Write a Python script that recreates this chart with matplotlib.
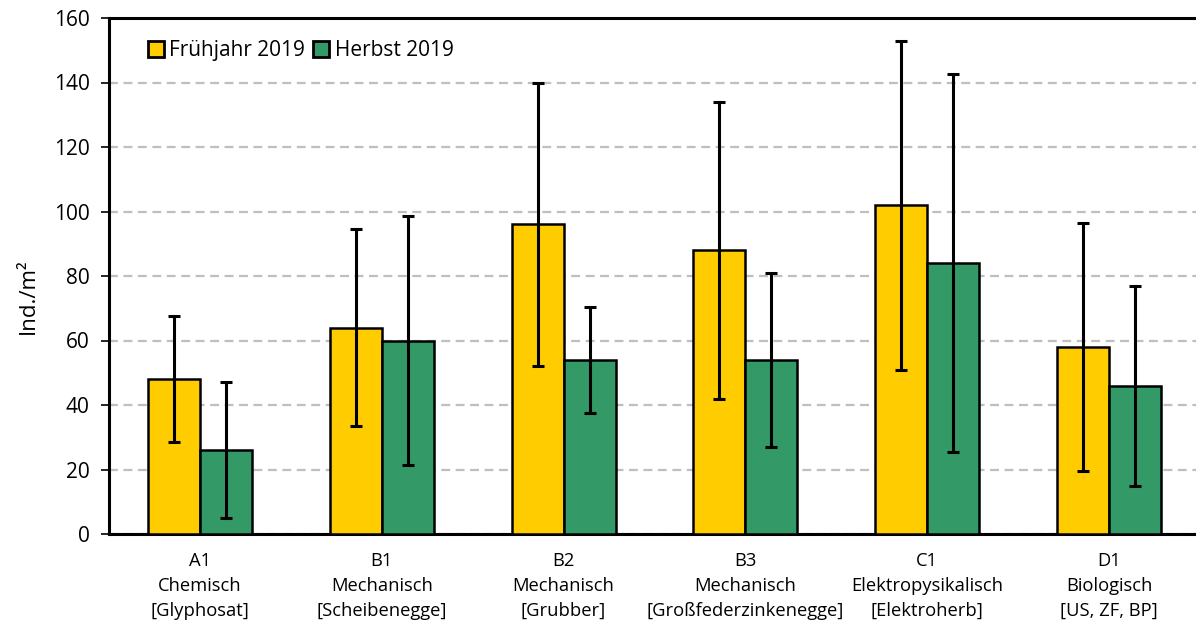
import matplotlib
matplotlib.use("Agg")
import matplotlib.pyplot as plt
import numpy as np

categories = ["A1\nChemisch\n[Glyphosat]", "B1\nMechanisch\n[Scheibenegge]", "B2\nMechanisch\n[Grubber]",
              "B3\nMechanisch\n[Großfederzinkenegge]", "C1\nElektropysikalisch\n[Elektroherb]",
              "D1\nBiologisch\n[US, ZF, BP]"]
fruehjahr = [48, 64, 96, 88, 102, 58]
fruehjahr_err = [19.5, 30.5, 44, 46, 51, 38.5]
herbst = [26, 60, 54, 54, 84, 46]
herbst_err = [21, 38.5, 16.5, 27, 58.5, 31]
series_names = ["Frühjahr 2019", "Herbst 2019"]
yticks = [0, 20, 40, 60, 80, 100, 120, 140, 160]

plt.rcParams['font.family'] = ['Open Sans', 'DejaVu Sans']

W, H = 1196, 626
fig = plt.figure(figsize=(W/100, H/100), dpi=100)
ax = fig.add_axes([109/W, 1-534/H, (1200-109)/W, (534-18)/H])

x = np.arange(len(categories))
bw = 0.286
ekw = dict(elinewidth=2.2, capthick=2.2, ecolor='black')
ax.bar(x - bw/2, fruehjahr, bw, color='#FFCC00', edgecolor='black', linewidth=1.8,
       yerr=fruehjahr_err, capsize=4.5, error_kw=ekw, label=series_names[0], zorder=3)
ax.bar(x + bw/2, herbst, bw, color='#339966', edgecolor='black', linewidth=1.8,
       yerr=herbst_err, capsize=4.5, error_kw=ekw, label=series_names[1], zorder=3)

ax.set_xlim(-0.5, len(categories) - 0.5)
ax.set_ylim(0, 160)
ax.set_yticks(yticks)
ax.set_xticks(x)
ax.set_xticklabels(categories, fontsize=13.2, linespacing=1.5)
ax.tick_params(axis='x', length=0, pad=13)
ax.tick_params(axis='y', length=6, width=1.2, labelsize=15, pad=8)
ax.yaxis.grid(True, color='#BFBFBF', linestyle=(0, (4, 2.5)), linewidth=1.6, zorder=0)
ax.set_axisbelow(True)
for s in ['top', 'left', 'bottom']:
    ax.spines[s].set_linewidth(2.2)
ax.spines['right'].set_visible(False)
ax.set_ylabel("Ind./m²", fontsize=16, labelpad=12)
ax.yaxis.set_label_coords(-0.064, 0.46)

leg = ax.legend(loc='upper left', bbox_to_anchor=(0.022, 0.985), ncol=2, frameon=False,
                fontsize=15, handlelength=0.8, handleheight=0.8, handletextpad=0.25,
                columnspacing=0.35, borderaxespad=0.3)
for h in leg.legend_handles:
    h.set_linewidth(2)

fig.savefig("out.png", dpi=100)
